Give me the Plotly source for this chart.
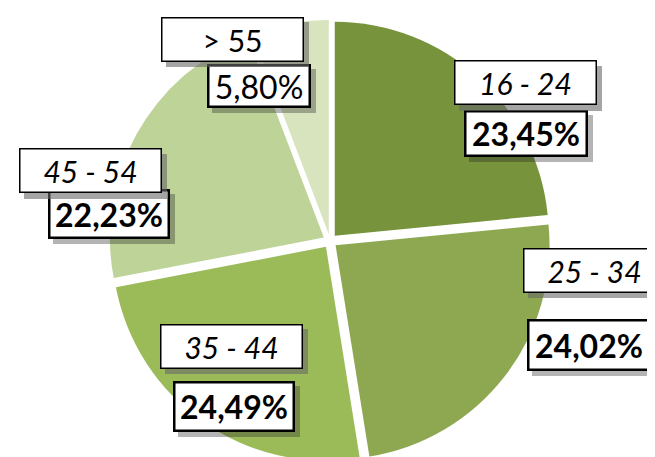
import plotly.graph_objects as go

# ---- data ----
categories = ["16 - 24", "25 - 34", "35 - 44", "45 - 54", "> 55"]
shares = [23.45, 24.02, 24.49, 22.23, 5.80]
pct_labels = ["23,45%", "24,02%", "24,49%", "22,23%", "5,80%"]
colors = ["#77933C", "#8DA851", "#9BBB59", "#BDD398", "#D7E4BD"]

W, H = 655, 457

def px(x):
    return x / W

def py(y):
    return 1 - y / H

fig = go.Figure(go.Pie(
    labels=categories,
    values=shares,
    sort=False,
    direction="clockwise",
    rotation=0,
    pull=[0.033] * len(shares),
    marker=dict(colors=colors, line=dict(width=0)),
    textinfo="none",
    hoverinfo="skip",
    showlegend=False,
    domain=dict(x=[px(101), px(543)], y=[py(454), py(12)]),
))

# label box centres (pixels): category box, percentage box
cat_pos = [(517, 75), (586, 262), (223.5, 338), (82.5, 163), (224, 31.5)]
pct_pos = [(518, 125.5), (581, 336.5), (226, 398.5), (101, 206), (251, 78)]
pct_size = [(124, 47), (124, 52), (122, 51), (122, 50), (104, 44)]
cat_italic = [True, True, True, True, False]
pct_bold = [True, True, True, True, False]

FONT = "Lato, 'Liberation Sans', sans-serif"
annotations = []

def box(cx, cy, w, h, text="", bg="white", border="black", bw=0.0, size=12):
    annotations.append(dict(
        x=px(cx), y=py(cy), xref="paper", yref="paper",
        xanchor="center", yanchor="middle", showarrow=False,
        text=text if text else " ",
        font=dict(family=FONT, size=size, color="black"),
        bgcolor=bg, bordercolor=border if bw > 0 else "rgba(0,0,0,0)",
        borderwidth=bw, borderpad=0,
        width=max(w - 2 * bw, 1), height=max(h - 2 * bw, 1), align="center"))

# percentage boxes with soft shadows
for i, lab in enumerate(pct_labels):
    cx, cy = pct_pos[i]
    w, h = pct_size[i]
    box(cx + 5, cy + 5, w, h, bg="rgba(40,40,40,0.35)")
    box(cx, cy, w, h, text=("<b>%s</b>" % lab) if pct_bold[i] else lab,
        bw=2.5, size=32)

# category boxes with dotted-gray shadows (drawn over percentage boxes)
for i, lab in enumerate(categories):
    cx, cy = cat_pos[i]
    w, h = 143, 45
    box(cx + 5, cy + 5, w, h, bg="rgba(105,105,105,0.6)")
    box(cx, cy, w, h, text=("<i>%s</i>" % lab) if cat_italic[i] else lab,
        bw=1.5, size=30)

fig.update_layout(
    width=W, height=H, autosize=False,
    margin=dict(l=0, r=0, t=0, b=0),
    paper_bgcolor="white", plot_bgcolor="white",
    annotations=annotations,
)

fig.write_html("out.html")
